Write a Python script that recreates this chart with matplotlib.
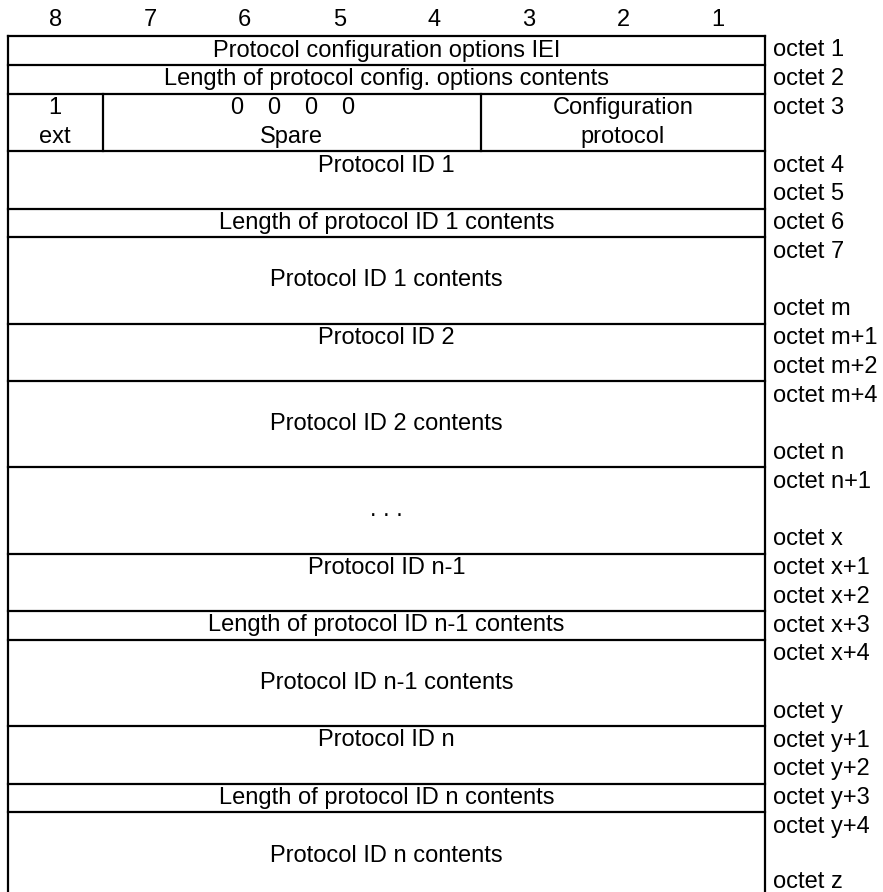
import matplotlib
matplotlib.use("Agg")
import matplotlib.pyplot as plt

# bit numbers across the top
bit_labels = ["8", "7", "6", "5", "4", "3", "2", "1"]

# full-width rows: text, height in octet slots, slot where the text sits
row_texts = [
    "Protocol configuration options IEI",
    "Length of protocol config. options contents",
    None,  # octet 3 is split into ext / spare / configuration protocol
    "Protocol ID 1",
    "Length of protocol ID 1 contents",
    "Protocol ID 1 contents",
    "Protocol ID 2",
    "Protocol ID 2 contents",
    ". . .",
    "Protocol ID n-1",
    "Length of protocol ID n-1 contents",
    "Protocol ID n-1 contents",
    "Protocol ID n",
    "Length of protocol ID n contents",
    "Protocol ID n contents",
]
row_slots = [1, 1, 2, 2, 1, 3, 2, 3, 3, 2, 1, 3, 2, 1, 3]
text_slot = [0, 0, 0, 0, 0, 1, 0, 1, 1, 0, 0, 1, 0, 0, 1]

# octet labels on the right, one list per row (None = empty slot)
octet_labels = [
    ["octet 1"],
    ["octet 2"],
    ["octet 3", None],
    ["octet 4", "octet 5"],
    ["octet 6"],
    ["octet 7", None, "octet m"],
    ["octet m+1", "octet m+2"],
    ["octet m+4", None, "octet n"],
    ["octet n+1", None, "octet x"],
    ["octet x+1", "octet x+2"],
    ["octet x+3"],
    ["octet x+4", None, "octet y"],
    ["octet y+1", "octet y+2"],
    ["octet y+3"],
    ["octet y+4", None, "octet z"],
]

# octet 3 sub-fields: first bit column, number of bits, top line, bottom line
octet3_fields = [
    (0, 1, ["1"], "ext"),
    (1, 4, ["0", "0", "0", "0"], "Spare"),
    (5, 3, ["Configuration"], "protocol"),
]

plt.rcParams["font.family"] = ["Liberation Sans", "DejaVu Sans"]
FS = 17.0
LW = 1.6

fig = plt.figure(figsize=(8.83, 8.92), dpi=100)
ax = fig.add_axes([0, 0, 1, 1])
ax.set_xlim(0, 883)
ax.set_ylim(892, 0)
ax.axis("off")

left, right = 8, 765
col_w = (right - left) / 8
top = 36
slot_h = 28.75
base_off = 20.5   # baseline below the top of a slot
zero_gap = 37     # spacing of the spare bits "0 0 0 0"


def put(x, y, s, ha="center"):
    ax.text(x, y, s, ha=ha, va="baseline", fontsize=FS)


def hline(y):
    ax.plot([left, right], [y, y], color="black", lw=LW, solid_capstyle="projecting")


for i, b in enumerate(bit_labels):
    put(left + (i + 0.5) * col_w, 26.5, b)

y = top
hline(y)
for text, n, ts, labels in zip(row_texts, row_slots, text_slot, octet_labels):
    y_next = y + n * slot_h
    if text is None:
        for c0, nc, upper, lower in octet3_fields:
            xc = left + (c0 + nc / 2) * col_w
            for k, s in enumerate(upper):
                put(xc + (k - (len(upper) - 1) / 2) * zero_gap, y + base_off, s)
            put(xc, y + slot_h + base_off, lower)
            if c0 > 0:
                ax.plot([left + c0 * col_w] * 2, [y, y_next], color="black", lw=LW)
    else:
        put((left + right) / 2, y + ts * slot_h + base_off, text)
    for k, lab in enumerate(labels):
        if lab:
            put(773, min(y + k * slot_h + base_off, 888), lab, ha="left")
    hline(y_next)
    y = y_next

ax.plot([left, left], [top, y], color="black", lw=LW)
ax.plot([right, right], [top, y], color="black", lw=LW)

fig.savefig("out.png", dpi=100, facecolor="white")
